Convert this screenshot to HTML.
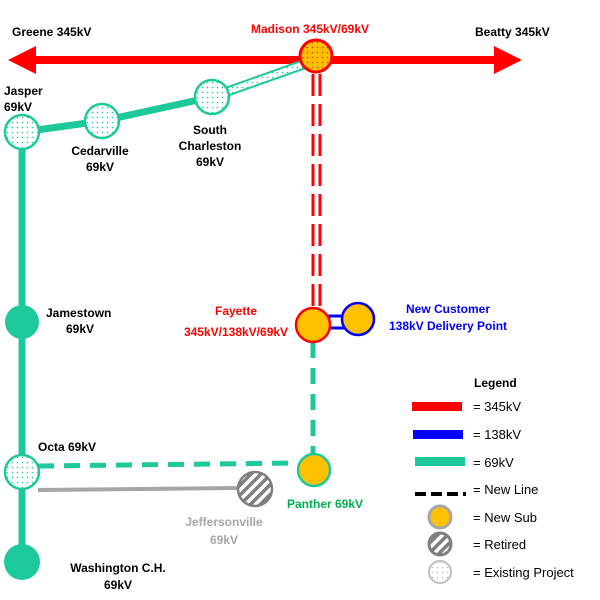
<!DOCTYPE html>
<html><head><style>body{margin:0;background:#fff}svg{display:block}text{font-family:"Liberation Sans",sans-serif;font-weight:bold;font-size:12px}</style></head><body>
<svg width="600" height="600" viewBox="0 0 600 600">
<defs>
<pattern id="dg" width="5" height="5" patternUnits="userSpaceOnUse"><rect width="5" height="5" fill="#fff"/><circle cx="2.5" cy="2.5" r="0.8" fill="#1dc99a"/></pattern>
<pattern id="dr" width="5" height="5" patternUnits="userSpaceOnUse"><rect width="5" height="5" fill="#ffc000"/><circle cx="2.5" cy="2.5" r="0.8" fill="#e04000"/></pattern>
<pattern id="dgr" width="5" height="5" patternUnits="userSpaceOnUse"><rect width="5" height="5" fill="#fff"/><circle cx="2.5" cy="2.5" r="0.7" fill="#bbb"/></pattern>
<pattern id="st" width="7" height="7" patternUnits="userSpaceOnUse" patternTransform="rotate(45)"><rect width="7" height="7" fill="#fff"/><rect width="3.5" height="7" fill="#7f7f7f"/></pattern>
</defs>
<!-- 345 line -->
<line x1="30" y1="60" x2="500" y2="60" stroke="#f00" stroke-width="8"/>
<polygon points="8,60 36,46 36,74" fill="#f00"/>
<polygon points="522,60 494,46 494,74" fill="#f00"/>
<!-- green lines -->
<line x1="22" y1="132" x2="22" y2="562" stroke="#1dc99a" stroke-width="7"/>
<polyline points="22,132 102,121 212,97" fill="none" stroke="#1dc99a" stroke-width="7"/>
<line x1="212" y1="97" x2="316" y2="60" stroke="#1dc99a" stroke-width="10"/>
<line x1="212" y1="97" x2="316" y2="60" stroke="url(#dg)" stroke-width="6"/>
<!-- red double dashed -->
<line x1="313" y1="74" x2="313" y2="310" stroke="#f00" stroke-width="3" stroke-dasharray="22,8"/>
<line x1="320" y1="74" x2="320" y2="310" stroke="#f00" stroke-width="3" stroke-dasharray="22,8"/>
<!-- blue -->
<line x1="325" y1="316" x2="350" y2="316" stroke="#00f" stroke-width="3"/>
<line x1="325" y1="328" x2="350" y2="328" stroke="#00f" stroke-width="3"/>
<line x1="329" y1="316" x2="329" y2="328" stroke="#00f" stroke-width="3"/>
<!-- green dashed -->
<line x1="313" y1="342" x2="313" y2="455" stroke="#1dc99a" stroke-width="5" stroke-dasharray="16,10"/>
<line x1="38" y1="466" x2="298" y2="463" stroke="#1dc99a" stroke-width="5" stroke-dasharray="16,10"/>
<!-- gray -->
<line x1="38" y1="490" x2="240" y2="488" stroke="#a6a6a6" stroke-width="4"/>
<!-- nodes -->
<circle cx="316" cy="56" r="16" fill="url(#dr)" stroke="#f00" stroke-width="3"/>
<circle cx="212" cy="97" r="17" fill="url(#dg)" stroke="#1dc99a" stroke-width="2.5"/>
<circle cx="102" cy="121" r="17" fill="url(#dg)" stroke="#1dc99a" stroke-width="2.5"/>
<circle cx="22" cy="132" r="17" fill="url(#dg)" stroke="#1dc99a" stroke-width="2.5"/>
<circle cx="22" cy="322" r="17" fill="#1dc99a"/>
<circle cx="22" cy="472" r="17" fill="url(#dg)" stroke="#1dc99a" stroke-width="2.5"/>
<circle cx="22" cy="562" r="18" fill="#1dc99a"/>
<circle cx="313" cy="325" r="17" fill="#ffc000" stroke="#f00" stroke-width="2.5"/>
<circle cx="358" cy="319" r="16" fill="#ffc000" stroke="#00f" stroke-width="2.5"/>
<circle cx="314" cy="470" r="16" fill="#ffc000" stroke="#1dc99a" stroke-width="2.5"/>
<circle cx="255" cy="489" r="17" fill="url(#st)" stroke="#7f7f7f" stroke-width="2.5"/>
<!-- labels -->
<text x="12" y="36">Greene 345kV</text>
<text x="475" y="36">Beatty 345kV</text>
<text x="310" y="33" fill="#f00" text-anchor="middle">Madison 345kV/69kV</text>
<text x="4" y="95">Jasper</text><text x="4" y="111">69kV</text>
<text x="100" y="155" text-anchor="middle">Cedarville</text><text x="100" y="171" text-anchor="middle">69kV</text>
<text x="210" y="134" text-anchor="middle">South</text><text x="210" y="150" text-anchor="middle">Charleston</text><text x="210" y="166" text-anchor="middle">69kV</text>
<text x="46" y="317">Jamestown</text><text x="66" y="333">69kV</text>
<text x="236" y="315" fill="#f00" text-anchor="middle">Fayette</text><text x="236" y="336" fill="#f00" text-anchor="middle">345kV/138kV/69kV</text>
<text x="448" y="313" fill="#00f" text-anchor="middle">New Customer</text><text x="448" y="330" fill="#00f" text-anchor="middle">138kV Delivery Point</text>
<text x="38" y="451">Octa 69kV</text>
<text x="287" y="508" fill="#00b050">Panther 69kV</text>
<text x="224" y="526" fill="#a6a6a6" text-anchor="middle">Jeffersonville</text><text x="224" y="544" fill="#a6a6a6" text-anchor="middle">69kV</text>
<text x="118" y="572" text-anchor="middle">Washington C.H.</text><text x="118" y="589" text-anchor="middle">69kV</text>
<!-- legend -->
<text x="474" y="387">Legend</text>
<rect x="412" y="402" width="50" height="9" fill="#f00"/>
<rect x="413" y="430" width="50" height="9" fill="#00f"/>
<rect x="415" y="457" width="50" height="9" fill="#1dc99a"/>
<line x1="415" y1="494" x2="466" y2="494" stroke="#000" stroke-width="4" stroke-dasharray="11,5"/>
<circle cx="440" cy="517" r="11" fill="#ffc000" stroke="#a6a6a6" stroke-width="3"/>
<circle cx="440" cy="544" r="11" fill="url(#st)" stroke="#7f7f7f" stroke-width="3"/>
<circle cx="440" cy="572" r="11" fill="url(#dgr)" stroke="#bfbfbf" stroke-width="2"/>
<g style="font-weight:normal;font-size:13px">
<text x="473" y="411" style="font-weight:normal;font-size:13px">= 345kV</text>
<text x="473" y="439" style="font-weight:normal;font-size:13px">= 138kV</text>
<text x="473" y="467" style="font-weight:normal;font-size:13px">= 69kV</text>
<text x="473" y="494" style="font-weight:normal;font-size:13px">= New Line</text>
<text x="473" y="522" style="font-weight:normal;font-size:13px">= New Sub</text>
<text x="473" y="549" style="font-weight:normal;font-size:13px">= Retired</text>
<text x="473" y="577" style="font-weight:normal;font-size:13px">= Existing Project</text>
</g>
</svg>
</body></html>
